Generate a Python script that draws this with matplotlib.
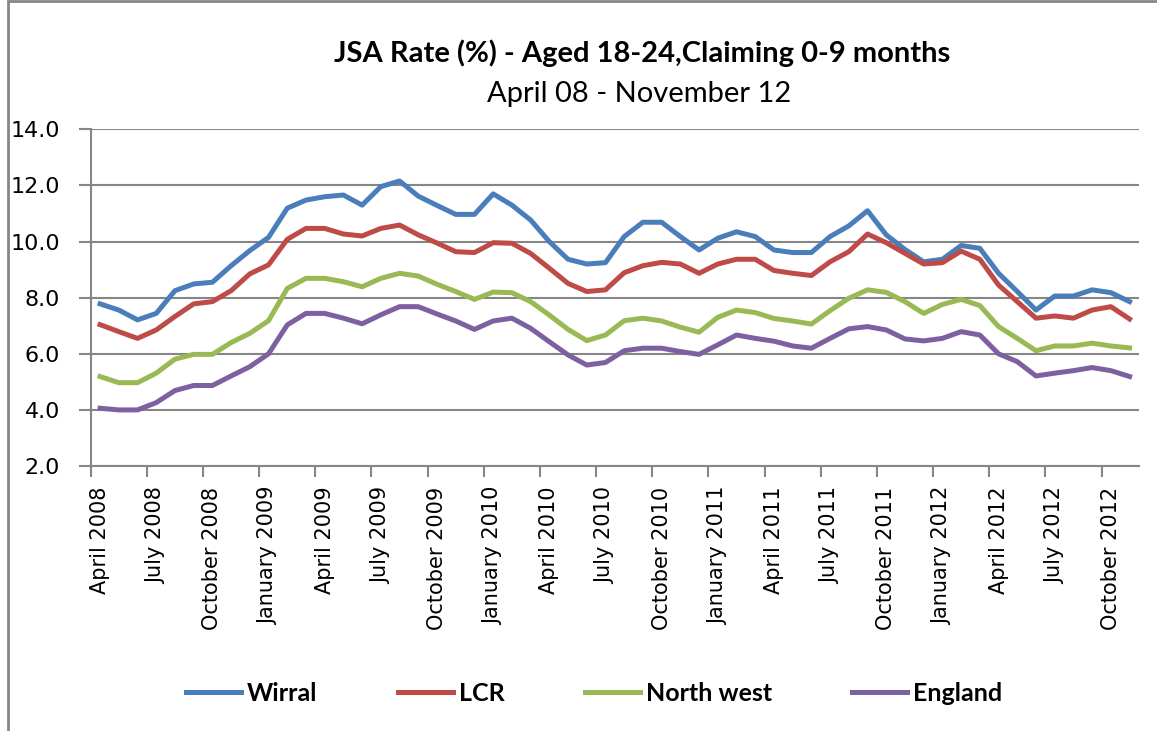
import matplotlib
matplotlib.use("Agg")
import matplotlib.pyplot as plt
from matplotlib.patches import Rectangle

months = ["January", "February", "March", "April", "May", "June", "July",
          "August", "September", "October", "November", "December"]
# April 2008 .. November 2012 (56 monthly points)
periods = []
m, y = 3, 2008
for _ in range(56):
    periods.append(f"{months[m]} {y}")
    m += 1
    if m == 12:
        m, y = 0, y + 1

wirral = [7.78, 7.56, 7.21, 7.44, 8.25, 8.49, 8.55, 9.14, 9.68, 10.15,
          11.19, 11.48, 11.60, 11.66, 11.30, 11.96, 12.16, 11.62, 11.29, 10.97,
          10.97, 11.70, 11.30, 10.77, 10.00, 9.37, 9.20, 9.25, 10.18, 10.69,
          10.69, 10.18, 9.70, 10.12, 10.35, 10.18, 9.70, 9.61, 9.61, 10.18,
          10.56, 11.10, 10.24, 9.72, 9.28, 9.37, 9.86, 9.76, 8.87, 8.22,
          7.56, 8.06, 8.06, 8.28, 8.18, 7.86]
lcr = [7.04, 6.79, 6.55, 6.85, 7.33, 7.78, 7.86, 8.25, 8.85, 9.17,
       10.08, 10.47, 10.47, 10.27, 10.20, 10.47, 10.59, 10.24, 9.95, 9.64,
       9.61, 9.96, 9.94, 9.58, 9.05, 8.51, 8.22, 8.28, 8.89, 9.14,
       9.26, 9.20, 8.87, 9.20, 9.37, 9.37, 8.97, 8.87, 8.79, 9.28,
       9.64, 10.27, 9.96, 9.58, 9.20, 9.25, 9.66, 9.37, 8.45, 7.86,
       7.27, 7.35, 7.27, 7.56, 7.68, 7.24]
north_west = [5.19, 4.97, 4.97, 5.31, 5.81, 5.98, 5.98, 6.40, 6.73, 7.18,
              8.33, 8.69, 8.69, 8.57, 8.39, 8.69, 8.87, 8.77, 8.48, 8.22,
              7.94, 8.20, 8.18, 7.86, 7.38, 6.87, 6.47, 6.67, 7.18, 7.27,
              7.17, 6.95, 6.77, 7.30, 7.56, 7.47, 7.26, 7.17, 7.06, 7.54,
              7.98, 8.28, 8.19, 7.86, 7.44, 7.76, 7.94, 7.72, 6.97, 6.55,
              6.11, 6.28, 6.28, 6.38, 6.28, 6.21]
england = [4.06, 4.00, 4.00, 4.26, 4.69, 4.87, 4.87, 5.21, 5.54, 6.00,
           7.03, 7.44, 7.44, 7.27, 7.07, 7.39, 7.68, 7.68, 7.42, 7.17,
           6.87, 7.17, 7.27, 6.91, 6.43, 5.96, 5.60, 5.69, 6.11, 6.20,
           6.20, 6.08, 5.98, 6.32, 6.67, 6.55, 6.45, 6.28, 6.20, 6.55,
           6.89, 6.97, 6.85, 6.53, 6.46, 6.55, 6.79, 6.67, 6.00, 5.72,
           5.21, 5.31, 5.40, 5.51, 5.40, 5.19]

series_names = ["Wirral", "LCR", "North west", "England"]
series_colors = ["#4A7EBB", "#BE4B48", "#98B954", "#7D60A0"]
y_ticks = [2.0, 4.0, 6.0, 8.0, 10.0, 12.0, 14.0]

fig = plt.figure(figsize=(11.57, 7.31), dpi=100)
fig.patches.append(Rectangle((0.0072, -0.01), 1.1, 1.0085, transform=fig.transFigure,
                             fill=False, edgecolor="#868686", linewidth=2.0))
ax = fig.add_axes([0.0784, 0.3625, 0.906, 0.4605])

x = list(range(len(periods)))
for vals, name, col in zip([wirral, lcr, north_west, england], series_names, series_colors):
    ax.plot(x, vals, color=col, linewidth=3.6, label=name, solid_joinstyle="round")

ax.set_xlim(-0.5, len(periods) - 0.5)
ax.set_ylim(2.0, 14.0)
ax.set_yticks(y_ticks)
ax.set_yticklabels([f"{v:.1f}" for v in y_ticks], fontsize=16)
ax.yaxis.grid(True, color="#868686", linewidth=1.5)
ax.set_axisbelow(True)

ax.set_xticks([i - 0.5 for i in range(0, len(periods), 3)])
ax.set_xticklabels([])
ax.set_xticks(list(range(0, len(periods), 3)), minor=True)
ax.set_xticklabels(periods[::3], minor=True, rotation=90, fontsize=15)
ax.tick_params(axis="x", which="major", length=8, color="#868686", width=1.5)
ax.tick_params(axis="x", which="minor", length=0, pad=15)
ax.tick_params(axis="y", length=9, color="#868686", width=1.5, pad=13)

for s in ["top", "right"]:
    ax.spines[s].set_visible(False)
for s in ["left", "bottom"]:
    ax.spines[s].set_color("#868686")
    ax.spines[s].set_linewidth(1.5)

fig.text(642 / 1157, 0.915, "JSA Rate (%) - Aged 18-24,Claiming 0-9 months", ha="center",
         va="baseline", fontsize=21, fontweight="bold", family="Lato")
fig.text(639 / 1157, 0.8605, "April 08 - November 12", ha="center", va="baseline",
         fontsize=21, family="Lato")

leg = fig.legend(loc="center", bbox_to_anchor=(594 / 1157, 0.051), ncol=4, frameon=False,
                 prop={"family": "Lato", "weight": "bold", "size": 18},
                 handlelength=2.2, columnspacing=3.2, handletextpad=0.25)

fig.savefig("out.png", dpi=100)
